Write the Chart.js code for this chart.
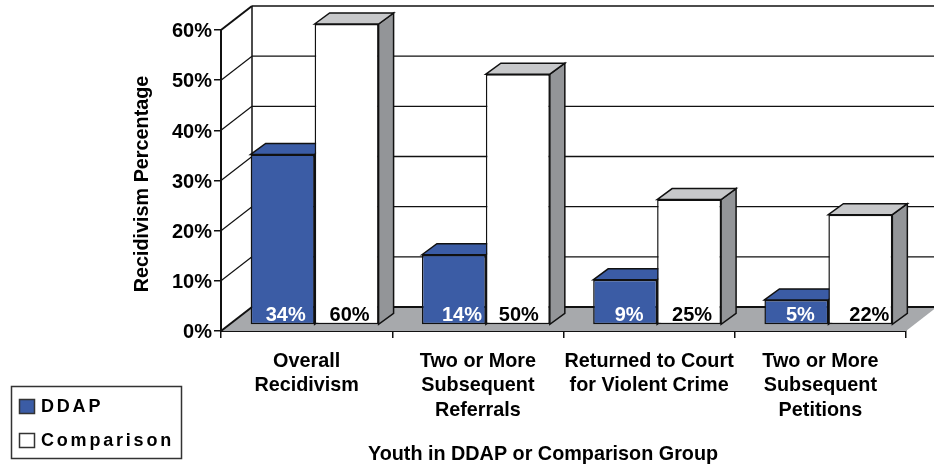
<!DOCTYPE html>
<html>
<head>
<meta charset="utf-8">
<style>
  html, body { margin: 0; padding: 0; background: #fff; }
  canvas { display: block; }
</style>
<script src="https://cdn.jsdelivr.net/npm/chart.js@4"></script>
</head>
<body>
<canvas id="chart" width="934" height="466"></canvas>
<script>
const categories = [
  ["Overall", "Recidivism"],
  ["Two or More", "Subsequent", "Referrals"],
  ["Returned to Court", "for Violent Crime"],
  ["Two or More", "Subsequent", "Petitions"]
];
const ddapValues = [34, 14, 9, 5];
const comparisonValues = [60, 50, 25, 22];
const yTitle = "Recidivism Percentage";
const xTitle = "Youth in DDAP or Comparison Group";

const BLUE = "#3b5ca5";
const FONT = '"Liberation Sans", Arial, sans-serif';

// fake 3D depth: wall offset and how far into the floor the bars stand
const WALL_DX = 31, WALL_DY = 24;
const BAR_DX = 8, BAR_DY = 6;
const SIDE_DX = 15, SIDE_DY = 11;

// value labels are not quite centred in the source
const labelNudge = [[3, 8, 4, 4], [3, 1, 3, 9]];

const poly = (ctx, pts, fill, stroke, lw) => {
  ctx.beginPath();
  pts.forEach((p, i) => i ? ctx.lineTo(p[0], p[1]) : ctx.moveTo(p[0], p[1]));
  ctx.closePath();
  if (fill) { ctx.fillStyle = fill; ctx.fill(); }
  if (stroke) { ctx.strokeStyle = stroke; ctx.lineWidth = lw; ctx.stroke(); }
};

const line = (ctx, x0, y0, x1, y1, lw) => {
  ctx.beginPath();
  ctx.moveTo(x0, y0);
  ctx.lineTo(x1, y1);
  ctx.strokeStyle = "#111";
  ctx.lineWidth = lw;
  ctx.stroke();
};

const box3d = {
  id: "box3d",
  beforeDatasetsDraw(chart) {
    const { ctx, chartArea: a, scales: { y } } = chart;
    ctx.save();

    // floor
    poly(ctx, [[a.left, a.bottom], [a.right, a.bottom],
      [a.right + WALL_DX, a.bottom - WALL_DY], [a.left + WALL_DX, a.bottom - WALL_DY]], "#a7a9ac");

    // back wall grid and left wall diagonals
    y.ticks.forEach(t => {
      const py = y.getPixelForValue(t.value);
      const lw = t.value === 0 ? 2.2 : 1.4;
      line(ctx, a.left + WALL_DX, py - WALL_DY, 934, py - WALL_DY, lw);
      line(ctx, a.left, py, a.left + WALL_DX, py - WALL_DY, t.value === 0 || t.value === 60 ? 2 : 1.2);
    });
    line(ctx, a.left + WALL_DX, a.top - WALL_DY, a.left + WALL_DX, a.bottom - WALL_DY, 1.5);

    // top and side faces, the front faces come from the library
    chart.data.datasets.forEach((ds, di) => {
      chart.getDatasetMeta(di).data.forEach(bar => {
        const l = bar.x - bar.width / 2 + BAR_DX;
        const r = bar.x + bar.width / 2 + BAR_DX;
        const t = bar.y - BAR_DY;
        const b = bar.base - BAR_DY;
        poly(ctx, [[r, t], [r + SIDE_DX, t - SIDE_DY], [r + SIDE_DX, b - SIDE_DY], [r, b]], "#939598", "#111", 1.5);
        poly(ctx, [[l, t], [l + SIDE_DX, t - SIDE_DY], [r + SIDE_DX, t - SIDE_DY], [r, t]],
          di === 0 ? BLUE : "#c7c8ca", "#111", 1.5);
      });
    });
    ctx.restore();

    ctx.save();
    ctx.translate(BAR_DX, -BAR_DY);
  },
  afterDatasetsDraw(chart) {
    const { ctx } = chart;
    ctx.restore();

    // value labels at the foot of each bar
    ctx.save();
    ctx.font = "bold 20px " + FONT;
    ctx.textAlign = "center";
    ctx.textBaseline = "middle";
    chart.data.datasets.forEach((ds, di) => {
      chart.getDatasetMeta(di).data.forEach((bar, i) => {
        ctx.fillStyle = di === 0 ? "#fff" : "#000";
        ctx.fillText(ds.data[i] + "%", bar.x + BAR_DX + labelNudge[di][i], bar.base - 14.5);
      });
    });
    ctx.restore();
  },
  afterDraw(chart) {
    const { ctx } = chart;
    ctx.save();

    // axis titles
    ctx.fillStyle = "#000";
    ctx.font = "bold 19.8px " + FONT;
    ctx.textAlign = "center";
    ctx.textBaseline = "middle";
    ctx.fillText(xTitle, 543, 454.5);
    ctx.translate(142.5, 184);
    ctx.rotate(-Math.PI / 2);
    ctx.fillText(yTitle, 0, 0);
    ctx.restore();

    // legend
    ctx.save();
    ctx.strokeStyle = "#333";
    ctx.lineWidth = 1.5;
    ctx.strokeRect(11.5, 386.5, 170, 72);
    ctx.font = "bold 18px " + FONT;
    ctx.letterSpacing = "2.8px";
    ctx.textBaseline = "middle";
    ctx.textAlign = "left";
    chart.data.datasets.forEach((ds, di) => {
      const top = 399 + di * 34;
      ctx.fillStyle = ds.backgroundColor;
      ctx.fillRect(19.5, top + 0.5, 15, 14);
      ctx.strokeRect(19.5, top + 0.5, 15, 14);
      ctx.fillStyle = "#000";
      ctx.fillText(ds.label, 41, top + 8);
    });
    ctx.restore();
  }
};

new Chart(document.getElementById("chart"), {
  type: "bar",
  data: {
    labels: categories,
    datasets: [
      { label: "DDAP", data: ddapValues, backgroundColor: BLUE },
      { label: "Comparison", data: comparisonValues, backgroundColor: "#fff" }
    ]
  },
  options: {
    responsive: false,
    animation: false,
    layout: { padding: { top: 30, right: 28, left: 0, bottom: 0 } },
    datasets: {
      bar: {
        categoryPercentage: 0.747,
        barPercentage: 1,
        borderColor: "#111",
        borderWidth: 1.5,
        borderSkipped: false,
        clip: false
      }
    },
    plugins: {
      legend: { display: false },
      tooltip: { enabled: false }
    },
    scales: {
      x: {
        afterFit: s => { s.height = 135; },
        border: { color: "#111", width: 2 },
        grid: { drawOnChartArea: false, color: "#111", lineWidth: 1.5, tickLength: 7 },
        ticks: {
          color: "#000",
          autoSkip: false,
          maxRotation: 0,
          padding: 11,
          font: { family: FONT, size: 19.8, weight: "bold", lineHeight: 1.24 }
        }
      },
      y: {
        min: 0,
        max: 60,
        afterFit: s => { s.width = 221; },
        border: { color: "#111", width: 2 },
        grid: { drawOnChartArea: false, color: "#111", lineWidth: 1.5, tickLength: 7 },
        ticks: {
          stepSize: 10,
          color: "#000",
          padding: 2,
          // empty first line plus a tiny line height pushes the labels down a bit
          font: { family: FONT, size: 20, weight: "bold", lineHeight: 0.17 },
          callback: v => ["", v + "%"]
        }
      }
    }
  },
  plugins: [box3d]
});
</script>
</body>
</html>
